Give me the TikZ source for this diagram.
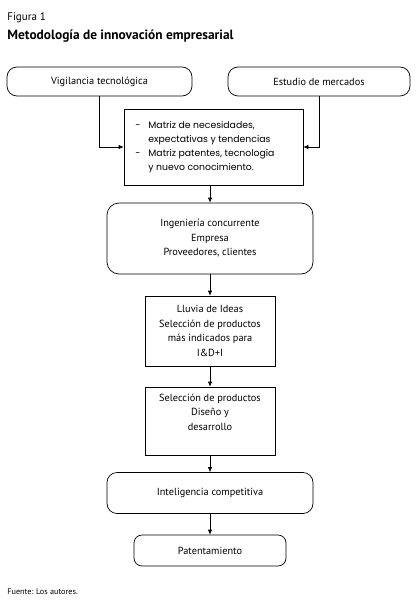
\documentclass[tikz,border=0pt]{standalone}
\usepackage{fontspec}
\setmainfont{PT Sans}
\newfontfamily\matfont{Poppins}
\usetikzlibrary{arrows.meta, positioning}

\tikzset{
    roundbox/.style={draw, rounded corners=10pt, inner sep=0pt, font=\fontsize{10.3}{14.5}\selectfont, align=center},
    squarebox/.style={draw, inner sep=0pt, font=\fontsize{10.3}{14.5}\selectfont, align=center},
    flow/.style={-{Latex[length=5pt, width=4.5pt]}, line width=0.7pt}
}

\begin{document}
\begin{tikzpicture}[x=1pt, y=-1pt, line width=0.7pt]
    \useasboundingbox (0,0) rectangle (418,604);

    % Caption
    \node[anchor=base west, inner sep=0pt, font=\fontsize{11}{12}\selectfont] (fig) at (7,21) {Figura 1};
    \node[anchor=base west, inner sep=0pt, font=\fontsize{13.4}{14}\selectfont\bfseries] (title) at (7,40) {Metodología de innovación empresarial};

    % Sources of information
    \node[roundbox, minimum width=185pt, minimum height=29pt] (vig) at (99.5,81.5) {Vigilancia tecnológica};
    \node[roundbox, minimum width=182pt, minimum height=29pt] (est) at (319,81.5) {Estudio de mercados};

    % Matrices
    \node[squarebox, minimum width=179pt, minimum height=76pt] (mat) at (213.5,147) {};
    \node[anchor=north west, inner sep=0pt, font=\matfont\fontsize{9.3}{14.2}\selectfont] (mattext) at (135,118)
        {\begin{tabular}{@{}l@{\hspace{8pt}}l@{}}
            - & Matriz de necesidades,\\
              & expectativas y tendencias\\
            - & Matriz patentes, tecnología\\
              & y nuevo conocimiento.
        \end{tabular}};

    % Main flow
    \node[roundbox, rounded corners=12pt, minimum width=206pt, minimum height=71pt] (ing) at (210,238.5)
        {Ingeniería concurrente\\Empresa\\Proveedores, clientes};
    \node[squarebox, minimum width=130pt, minimum height=70pt] (llu) at (210,331)
        {Lluvia de Ideas\\Selección de productos\\más indicados para\\I\&D+I};
    \node[squarebox, minimum width=130pt, minimum height=68pt] (sel) at (210,421)
        {Selección de productos\\Diseño y\\desarrollo\\[3pt]};
    \node[roundbox, minimum width=206pt, minimum height=41pt] (intel) at (210,493)
        {Inteligencia competitiva};
    \node[roundbox, rounded corners=8pt, minimum width=152pt, minimum height=31pt] (pat) at (210,550.5)
        {Patentamiento};

    % Connectors
    \draw[flow] (vig.south) |- (mat.west);
    \draw[flow] (est.south) |- (mat.east);
    \draw[flow] (mat.south -| ing.north) -- (ing.north);
    \draw[flow] (ing) -- (llu);
    \draw[flow] (llu) -- (sel);
    \draw[flow] (sel) -- (intel);
    \draw[flow] (intel) -- (pat);

    % Source
    \node[anchor=base west, inner sep=0pt, font=\fontsize{8.2}{9}\selectfont] (src) at (7,594) {Fuente: Los autores.};
\end{tikzpicture}
\end{document}
